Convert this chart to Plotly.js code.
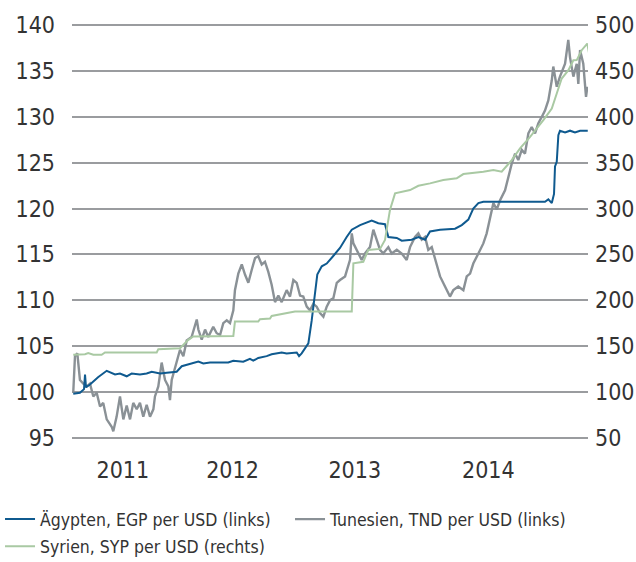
<!DOCTYPE html>
<html>
<head>
<meta charset="utf-8">
<script src="https://cdn.plot.ly/plotly-3.0.1.min.js"></script>
<style>html,body{margin:0;padding:0;background:#fff;}#chart{width:636px;height:562px;}</style>
</head>
<body>
<div id="chart"></div>
<script>
// Year labels and their (decimal-year) positions
const yearLabels = ["2011", "2012", "2013", "2014"];
const yearTicks = [2011.531, 2012.415, 2013.401, 2014.478];

// Ägypten, EGP per USD (Index, links)
const egyptT = [2011.131,2011.185,2011.218,2011.226,2011.234,2011.266,2011.331,2011.401,2011.468,2011.508,2011.562,2011.602,2011.669,2011.723,2011.764,2011.831,2011.885,2011.965,2012.006,2012.059,2012.140,2012.180,2012.234,2012.381,2012.422,2012.502,2012.556,2012.583,2012.623,2012.691,2012.731,2012.812,2012.852,2012.933,2012.952,2012.973,2013.000,2013.027,2013.054,2013.067,2013.089,2013.099,2013.135,2013.175,2013.226,2013.282,2013.336,2013.377,2013.444,2013.538,2013.591,2013.645,2013.672,2013.740,2013.780,2013.860,2013.914,2013.968,2014.008,2014.089,2014.210,2014.264,2014.317,2014.344,2014.357,2014.398,2014.438,2014.935,2014.962,2014.990,2015.008,2015.016,2015.030,2015.043,2015.056,2015.097,2015.137,2015.177,2015.218,2015.280];
const egyptV = [99.8,99.9,100.3,101.9,100.5,100.8,101.6,102.3,101.9,102.0,101.7,102.0,101.9,102.0,102.2,102.0,102.1,102.2,102.8,103.0,103.3,103.1,103.2,103.2,103.4,103.3,103.6,103.4,103.7,103.9,104.1,104.3,104.2,104.3,103.9,104.2,104.8,105.3,107.8,109.3,111.5,112.8,113.7,114.0,114.8,115.7,116.9,117.7,118.2,118.7,118.4,118.3,116.9,116.8,116.5,116.6,116.9,116.6,117.5,117.7,117.8,118.2,118.8,119.5,120.0,120.6,120.75,120.75,121.0,120.6,121.6,124.6,125.1,128.0,128.5,128.3,128.5,128.3,128.5,128.5];

// Tunesien, TND per USD (Index, links)
const tunisiaT = [2011.131,2011.145,2011.164,2011.185,2011.212,2011.240,2011.266,2011.293,2011.320,2011.347,2011.373,2011.401,2011.441,2011.454,2011.481,2011.508,2011.535,2011.562,2011.589,2011.615,2011.643,2011.669,2011.696,2011.723,2011.750,2011.777,2011.790,2011.817,2011.844,2011.871,2011.898,2011.911,2011.925,2011.965,2011.992,2012.019,2012.046,2012.086,2012.127,2012.140,2012.167,2012.194,2012.220,2012.260,2012.288,2012.315,2012.341,2012.369,2012.395,2012.422,2012.435,2012.462,2012.490,2012.516,2012.543,2012.570,2012.597,2012.623,2012.651,2012.677,2012.704,2012.731,2012.758,2012.785,2012.812,2012.852,2012.879,2012.906,2012.933,2012.960,2012.986,2013.014,2013.040,2013.067,2013.094,2013.121,2013.148,2013.175,2013.202,2013.228,2013.256,2013.282,2013.323,2013.363,2013.377,2013.390,2013.417,2013.457,2013.484,2013.524,2013.551,2013.578,2013.605,2013.631,2013.672,2013.699,2013.740,2013.780,2013.820,2013.847,2013.887,2013.914,2013.941,2013.968,2013.994,2014.022,2014.062,2014.089,2014.129,2014.169,2014.196,2014.236,2014.277,2014.304,2014.331,2014.357,2014.398,2014.438,2014.465,2014.492,2014.519,2014.546,2014.573,2014.613,2014.640,2014.667,2014.694,2014.720,2014.748,2014.774,2014.801,2014.828,2014.855,2014.881,2014.909,2014.935,2014.962,2014.990,2015.002,2015.030,2015.056,2015.097,2015.123,2015.137,2015.164,2015.191,2015.204,2015.218,2015.244,2015.258,2015.266,2015.277];
const tunisiaV = [99.9,103.9,104.2,101.3,100.9,100.6,100.9,99.5,99.9,98.4,98.8,97.0,96.2,95.7,97.3,99.5,97.0,98.5,97.0,98.8,98.1,98.8,97.3,98.6,97.3,98.1,99.5,100.6,103.2,101.3,100.6,99.1,101.3,103.2,104.6,103.9,105.6,106.0,107.9,106.8,105.7,106.8,106.0,107.1,106.4,106.2,107.5,107.8,107.5,108.9,111.1,112.9,113.9,112.8,111.9,113.3,114.6,114.8,113.9,114.2,113.1,111.7,109.8,110.5,109.8,111.1,110.4,112.2,111.9,110.5,110.4,109.3,108.9,109.6,109.3,108.6,108.2,109.3,110.0,110.2,111.9,112.2,112.6,114.4,117.3,116.2,115.5,114.4,115.1,115.8,117.7,116.6,115.5,115.1,115.8,115.1,115.5,115.1,114.4,115.8,116.9,117.3,116.6,116.9,115.5,115.8,113.7,112.6,111.5,110.4,111.1,111.5,111.1,112.6,112.9,114.0,115.1,116.2,117.3,119.1,120.6,119.9,120.9,122.0,123.5,124.9,126.0,125.3,126.4,126.0,128.2,128.9,128.2,129.3,130.0,130.7,131.8,134.0,135.5,133.3,134.4,135.8,138.4,136.5,134.4,135.8,133.6,137.3,135.8,134.0,132.2,133.3];

// Syrien, SYP per USD (rechts)
const syriaT = [2011.131,2011.226,2011.252,2011.293,2011.360,2011.387,2011.804,2011.817,2011.992,2012.032,2012.059,2012.099,2012.422,2012.435,2012.623,2012.637,2012.718,2012.731,2012.812,2012.919,2013.377,2013.390,2013.470,2013.510,2013.605,2013.645,2013.685,2013.726,2013.847,2013.914,2014.008,2014.115,2014.223,2014.277,2014.438,2014.519,2014.586,2014.667,2014.734,2014.815,2014.922,2014.990,2015.030,2015.070,2015.124,2015.164,2015.191,2015.231,2015.276,2015.290];
const syriaV = [140.4,141,142.3,140.5,140.5,143,143,146.6,147.7,153.2,156.8,160.4,161,176.7,176.7,179.3,180,182.9,185,187.6,187.6,240.3,242,254.8,256,265.7,298.4,316.6,320.2,324.9,327.5,331.1,333,337.7,340.2,342,340.2,352.9,365.7,378.3,396.5,409.2,425.6,441.9,451,461.9,462,472.8,480,470];

// Axis tick values
const leftTicks = [95,100,105,110,115,120,125,130,135,140];
const rightTicks = [50,100,150,200,250,300,350,400,450,500];

const FONT = '"DejaVu Sans Condensed", "Liberation Sans Narrow", sans-serif';
const TXT = '#333333';

const traces = [
  {x: syriaT, y: syriaV, name: 'Syrien, SYP per USD (rechts)', type: 'scatter', mode: 'lines',
   line: {color: '#a9c9a3', width: 2}, yaxis: 'y2', legend: 'legend2'},
  {x: tunisiaT, y: tunisiaV, name: 'Tunesien, TND per USD (links)', type: 'scatter', mode: 'lines',
   line: {color: '#8a9196', width: 2.4}, yaxis: 'y', legend: 'legend', legendrank: 2},
  {x: egyptT, y: egyptV, name: 'Ägypten, EGP per USD (links)', type: 'scatter', mode: 'lines',
   line: {color: '#0f5a8f', width: 2}, yaxis: 'y', legend: 'legend', legendrank: 1}
];

const layout = {
  width: 636, height: 562,
  margin: {l: 72, r: 48, t: 22.7, b: 121.7, pad: 0, autoexpand: false},
  paper_bgcolor: '#ffffff', plot_bgcolor: '#ffffff',
  font: {family: FONT, color: TXT, size: 18},
  showlegend: true,
  xaxis: {
    type: 'linear', range: [2011.121, 2015.282],
    tickvals: yearTicks, ticktext: yearLabels,
    showgrid: false, zeroline: false, showline: false, ticks: '',
    ticklabelstandoff: 14,
    tickfont: {family: FONT, size: 23, color: TXT}
  },
  yaxis: {
    range: [94.75, 140.25], tickvals: leftTicks,
    showgrid: true, gridcolor: '#9a9c9f', gridwidth: 2,
    zeroline: false, showline: false, ticks: '',
    ticklabelstandoff: 16,
    tickfont: {family: FONT, size: 23, color: TXT}
  },
  yaxis2: {
    range: [47.5, 502.5], tickvals: rightTicks,
    overlaying: 'y', side: 'right',
    showgrid: false, zeroline: false, showline: false, ticks: '',
    ticklabelstandoff: 6,
    tickfont: {family: FONT, size: 23, color: TXT}
  },
  legend: {
    orientation: 'h', x: -0.1395, xanchor: 'left', y: -0.19, yanchor: 'middle',
    entrywidth: 245, entrywidthmode: 'pixels', traceorder: 'normal',
    font: {family: FONT, size: 17.5, color: TXT},
    bgcolor: 'rgba(0,0,0,0)', borderwidth: 0, itemwidth: 30
  },
  legend2: {
    orientation: 'h', x: -0.1395, xanchor: 'left', y: -0.298, yanchor: 'bottom',
    font: {family: FONT, size: 17.5, color: TXT},
    bgcolor: 'rgba(0,0,0,0)', borderwidth: 0, itemwidth: 30
  }
};

Plotly.newPlot('chart', traces, layout, {displayModeBar: false, staticPlot: true});
</script>
</body>
</html>
